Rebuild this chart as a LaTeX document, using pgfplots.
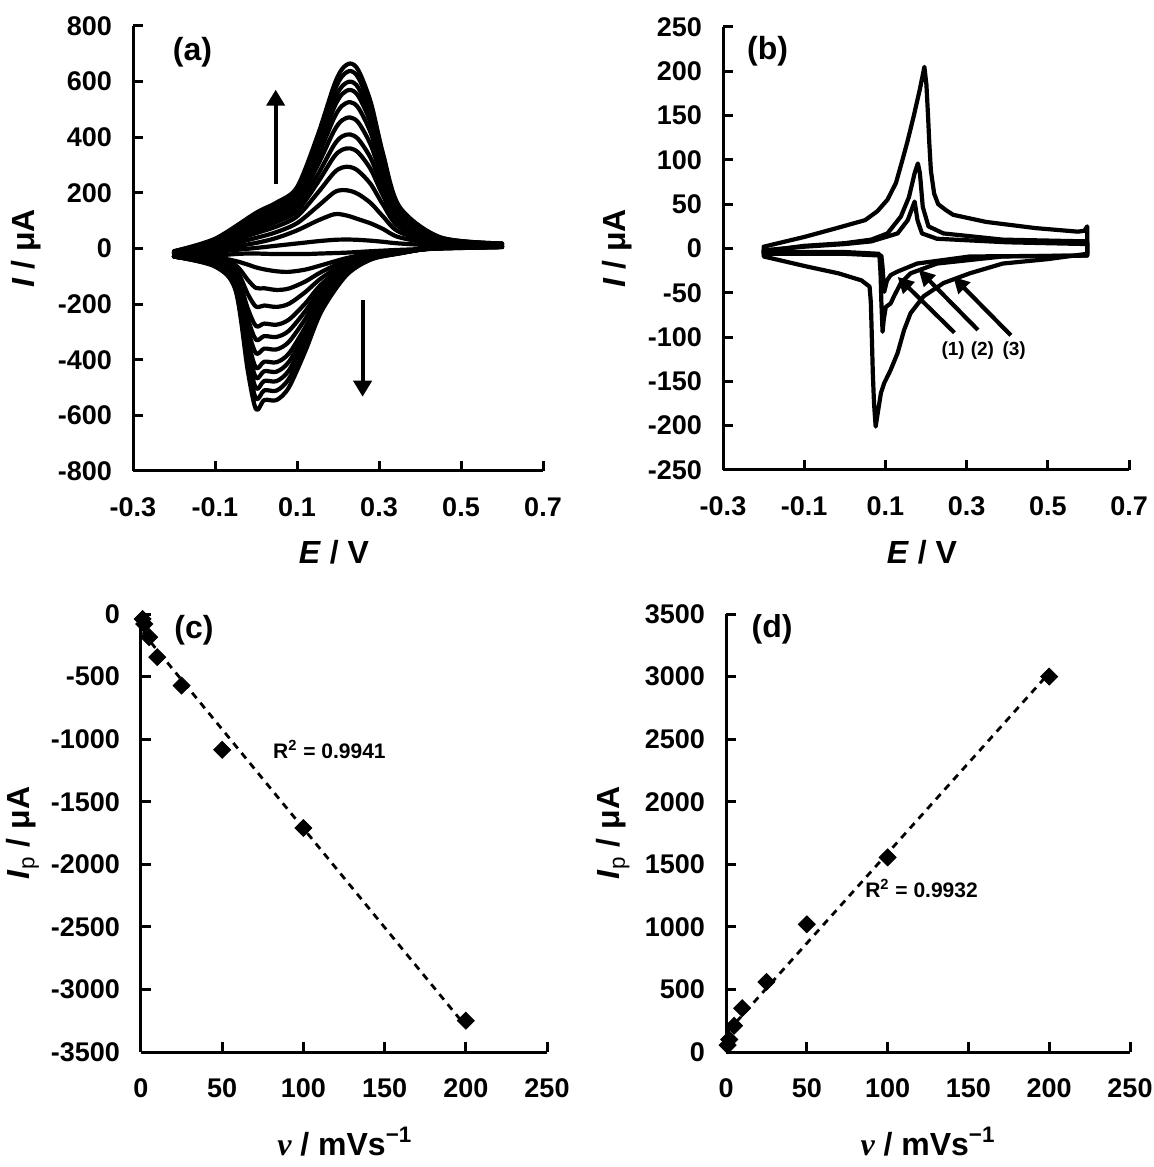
\documentclass[border=0pt]{standalone}
\usepackage{fontspec}
\setmainfont{Liberation Sans}
\newfontfamily\serifnu{Liberation Serif}
\usepackage{pgfplots}
\usepackage{pgfplotstable}
\pgfplotsset{compat=1.18}
\usetikzlibrary{arrows.meta}

% (a) forward (anodic) branches, one column per scan
\pgfplotstableread{
E     F0  F1  F2  F3  F4  F5  F6  F7  F8  F9  F10 F11
-0.2  -20 -18 -17 -15 -14 -14 -13 -12 -11 -11 -10 -10
-0.1  -12 -5  2   8   13  17  21  25  28  30  33  35
0.0   2   20  38  55  68  78  90  101 109 115 123 128
0.05  10  38  59  79  95  106 120 133 143 150 159 165
0.1   18  65  91  115 134 148 165 181 193 202 212 220
0.15  26  100 151 199 236 264 298 328 352 369 390 405
0.19  31  123 201 272 329 371 422 468 505 531 562 585
0.21  32  122 210 291 355 403 461 513 555 583 619 645
0.23  32  115 207 293 360 410 471 526 570 600 638 665
0.25  31  105 195 278 344 392 452 505 547 577 613 640
0.28  28  90  163 231 284 324 372 415 450 474 503 525
0.31  24  70  115 157 190 215 245 272 293 308 327 340
0.35  18  40  59  76  89  99  111 122 131 137 145 150
0.45  10  15  19  23  26  28  31  34  36  37  39  40
0.6   8   10  11  13  14  14  15  16  17  17  18  18
}\fwd

% (a) reverse (cathodic) branches
\pgfplotstableread{
E     R0  R1  R2   R3   R4   R5   R6   R7   R8   R9   R10  R11
0.6   5   5   5    6    6    6    6    6    7    7    7    7
0.45  0   0   1    1    2    3    3    4    4    4    5    5
0.35  -5  -8  -10  -11  -12  -13  -14  -15  -16  -17  -17  -18
0.28  -10 -18 -21  -24  -27  -29  -31  -34  -35  -37  -38  -40
0.22  -15 -35 -44  -52  -61  -67  -73  -79  -83  -88  -92  -97
0.16  -18 -60 -84  -106 -128 -144 -160 -177 -189 -201 -213 -225
0.12  -20 -76 -119 -157 -198 -226 -254 -284 -305 -327 -348 -370
0.08  -20 -84 -144 -199 -256 -296 -336 -378 -408 -439 -469 -500
0.05  -20 -82 -149 -210 -274 -318 -363 -409 -443 -477 -511 -545
0.02  -19 -75 -143 -205 -270 -315 -360 -407 -441 -476 -510 -545
0.0   -18 -68 -142 -209 -279 -328 -377 -429 -465 -503 -540 -578
-0.02 -18 -58 -113 -164 -216 -253 -290 -328 -356 -384 -412 -440
-0.05 -20 -45 -60  -74  -89  -99  -109 -119 -127 -135 -142 -150
-0.1  -25 -32 -37  -41  -46  -49  -52  -55  -58  -60  -63  -65
-0.2  -28 -28 -28  -28  -28  -29  -29  -29  -29  -29  -29  -29
}\rev

% (c),(d) peak currents vs scan rate
\pgfplotstableread{
v   Ic    Id
1   -40   55
2   -80   100
5   -185  210
10  -345  350
25  -572  560
50  -1085 1020
100 -1710 1555
200 -3250 3000
}\rate

\pgfplotsset{
  panel/.style={
    scale only axis,
    axis lines=left,
    axis line style={-, line width=1.5pt},
    tick align=inside,
    major tick length=5pt,
    tick style={black, line width=1.5pt},
    /pgf/number format/assume math mode=true,
    /pgf/number format/1000 sep={},
    ticklabel style={font=\bfseries\fontsize{13.5}{16}\selectfont},
    yticklabel style={xshift=-7pt},
    xticklabel style={yshift=-10pt},
    label style={font=\bfseries\fontsize{16}{19}\selectfont},
    every axis x label/.append style={anchor=center},
    every axis y label/.append style={anchor=center},
  },
  cv/.style={black, line width=2.1pt, line join=round, line cap=round},
  pts/.style={only marks, mark=square*, mark size=3pt, black,
    every mark/.append style={rotate=45}},
  fit/.style={black, line width=1.4pt, dash pattern=on 3.5pt off 3pt},
}
\tikzset{
  lab/.style={font=\bfseries\fontsize{16}{18}\selectfont},
  small/.style={font=\bfseries\fontsize{10.5}{12}\selectfont},
  tiny/.style={font=\bfseries\fontsize{9.5}{11}\selectfont},
}

\begin{document}
\begin{tikzpicture}
\useasboundingbox (0,0) rectangle (576.5pt,583.5pt);

% ---------- (a)
\begin{axis}[panel, anchor=south west, at={(66.5pt,348pt)},
    width=205pt, height=222.5pt,
    xmin=-0.3, xmax=0.7, ymin=-800, ymax=800,
    xtick={-0.3,-0.1,0.1,0.3,0.5,0.7},
    ytick={-800,-600,-400,-200,0,200,400,600,800},
    xlabel={\textit{E} / V}, ylabel={\textit{I} / μA},
    xlabel style={at={(axis description cs:0.49,-0.182)}},
    ylabel style={at={(axis description cs:-0.261,0.5)}}]
  \pgfplotsinvokeforeach{0,...,11}{
    \addplot[cv, smooth, tension=0.5] table[x=E, y=F#1] {\fwd};
    \addplot[cv, smooth, tension=0.5] table[x=E, y=R#1] {\rev};
  }
  \draw[-{Triangle[length=8pt,width=9pt]}, line width=2pt]
    (axis cs:0.048,232) -- (axis cs:0.048,571);
  \draw[-{Triangle[length=8pt,width=9pt]}, line width=2pt]
    (axis cs:0.26,-187) -- (axis cs:0.26,-533);
  \node[lab] at (axis cs:-0.155,707) {(a)};
\end{axis}

% ---------- (b)
\begin{axis}[panel, anchor=south west, at={(361.5pt,348.5pt)},
    width=203pt, height=221.5pt,
    xmin=-0.3, xmax=0.7, ymin=-250, ymax=250,
    xtick={-0.3,-0.1,0.1,0.3,0.5,0.7},
    ytick={-250,-200,-150,-100,-50,0,50,100,150,200,250},
    xlabel={\textit{E} / V}, ylabel={\textit{I} / μA},
    xlabel style={at={(axis description cs:0.49,-0.185)}},
    ylabel style={at={(axis description cs:-0.26,0.5)}}]
  % (3)
  \addplot[cv] coordinates {
    (-0.2,2) (-0.1,13) (-0.02,23) (0.05,32) (0.08,42) (0.105,55) (0.126,74)
    (0.142,100) (0.155,122) (0.17,150) (0.185,180) (0.196,205) (0.201,185)
    (0.205,150) (0.208,120) (0.212,88) (0.22,62) (0.23,50) (0.25,43)
    (0.267,38) (0.348,30) (0.47,23) (0.574,19) (0.59,20) (0.597,25)
    (0.597,-6) (0.5,-12) (0.389,-17) (0.308,-28) (0.243,-39) (0.194,-54)
    (0.162,-73) (0.146,-92) (0.13,-118) (0.113,-137) (0.097,-152)
    (0.089,-163) (0.081,-186) (0.076,-201) (0.072,-175) (0.069,-141)
    (0.066,-90) (0.064,-60) (0.061,-43) (0.041,-36) (-0.016,-28)
    (-0.097,-20) (-0.2,-9) (-0.2,2)};
  % (2)
  \addplot[cv] coordinates {
    (-0.2,-3) (-0.1,3) (0.0,6) (0.065,10) (0.105,17) (0.138,36) (0.158,58)
    (0.172,85) (0.18,96) (0.185,85) (0.192,47) (0.206,25) (0.243,17)
    (0.389,10) (0.597,8) (0.597,-8) (0.389,-9) (0.227,-17) (0.162,-28)
    (0.138,-39) (0.121,-54) (0.113,-62) (0.101,-66) (0.096,-80) (0.093,-94)
    (0.09,-60) (0.088,-28) (0.085,-6) (0.0,-4) (-0.2,-4) (-0.2,-3)};
  % (1)
  \addplot[cv] coordinates {
    (-0.2,-2) (-0.1,2) (0.0,5) (0.065,8) (0.13,17) (0.155,32) (0.172,53)
    (0.179,32) (0.19,17) (0.227,11) (0.4,7) (0.597,5) (0.597,-8)
    (0.308,-9) (0.178,-17) (0.13,-26) (0.113,-30) (0.104,-36) (0.097,-49)
    (0.093,-21) (0.09,-8) (0.0,-6) (-0.2,-6) (-0.2,-2)};
  \draw[-{Triangle[length=8pt,width=8pt]}, line width=2.1pt]
    (axis cs:0.270,-95) -- (axis cs:0.130,-32);
  \draw[-{Triangle[length=8pt,width=8pt]}, line width=2.1pt]
    (axis cs:0.328,-92) -- (axis cs:0.182,-24);
  \draw[-{Triangle[length=8pt,width=8pt]}, line width=2.1pt]
    (axis cs:0.409,-98) -- (axis cs:0.267,-32);
  \node[tiny] at (axis cs:0.267,-115) {(1)};
  \node[tiny] at (axis cs:0.339,-115) {(2)};
  \node[tiny] at (axis cs:0.417,-115) {(3)};
  \node[lab] at (axis cs:-0.19,223) {(b)};
\end{axis}

% ---------- (c)
\begin{axis}[panel, anchor=south west, at={(70.5pt,57.5pt)},
    width=203pt, height=219pt,
    xmin=0, xmax=250, ymin=-3500, ymax=0,
    xtick={0,50,100,150,200,250},
    ytick={-3500,-3000,-2500,-2000,-1500,-1000,-500,0},
    xlabel={{\serifnu\bfseries\itshape ν} / mVs\textsuperscript{−1}},
    ylabel={\textit{I}\textsubscript{\mdseries p} / μA},
    xlabel style={at={(axis description cs:0.502,-0.205)}},
    ylabel style={at={(axis description cs:-0.292,0.5)}}]
  \addplot[fit] coordinates {(1,-147) (200,-3295)};
  \addplot[pts] table[x=v, y=Ic] {\rate};
  \node[small] at (axis cs:116,-1079) {R\textsuperscript{2} = 0.9941};
  \node[lab] at (axis cs:32.6,-128) {(c)};
\end{axis}

% ---------- (d)
\begin{axis}[panel, anchor=south west, at={(363pt,57.5pt)},
    width=202pt, height=219pt,
    xmin=0, xmax=250, ymin=0, ymax=3500,
    xtick={0,50,100,150,200,250},
    ytick={0,500,1000,1500,2000,2500,3000,3500},
    xlabel={{\serifnu\bfseries\itshape ν} / mVs\textsuperscript{−1}},
    ylabel={\textit{I}\textsubscript{\mdseries p} / μA},
    xlabel style={at={(axis description cs:0.5,-0.205)}},
    ylabel style={at={(axis description cs:-0.28,0.5)}}]
  \addplot[fit] coordinates {(1,163) (200,3029)};
  \addplot[pts] table[x=v, y=Id] {\rate};
  \node[small] at (axis cs:121,1310) {R\textsuperscript{2} = 0.9932};
  \node[lab] at (axis cs:28.5,3380) {(d)};
\end{axis}
\end{tikzpicture}
\end{document}
